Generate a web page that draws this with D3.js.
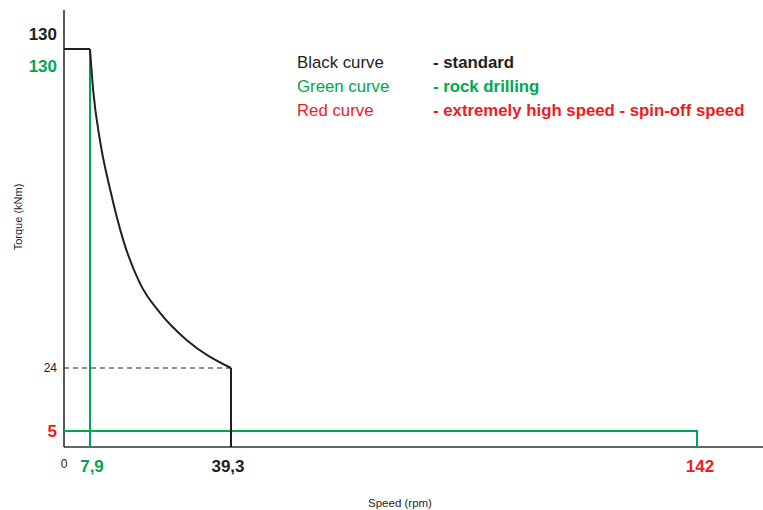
<!DOCTYPE html>
<meta charset="utf-8">
<script src="https://d3js.org/d3.v7.min.js"></script>
<style>
  body { margin: 0; background: #fff; }
  text { font-family: "Liberation Sans", Arial, Helvetica, sans-serif; }
</style>
<div id="my_dataviz"></div>
<script>
    // tick positions on each axis
    var speedTicks = [0, 7.9, 39.3, 142];
    var torqueTicks = [0, 5, 24, 130];

    // black curve - standard (flat, constant power, drop)
    var flatSpeed = [0, 7.9];
    var flatTorque = [130, 130];
    var curveSpeed = [7.9, 8.6, 10.1, 12.4, 15.3, 19.0, 23.5, 29.4, 39.3];
    var curveTorque = [130, 116.4, 99.8, 83.2, 66.5, 52.2, 42.3, 33.3, 24];
    var dropSpeed = [39.3, 39.3];
    var dropTorque = [24, 0];

    // green curve - rock drilling
    var greenSpeed = [7.9, 7.9];
    var greenTorque = [130, 0];
    // low torque line up to spin-off speed
    var lowSpeed = [0, 142, 142];
    var lowTorque = [5, 5, 0];

    // tick labels
    var yLabelValues = [130, 130, 24, 5];
    var yLabelText = ["130", "130", "24", "5"];
    var yLabelColors = ["#231f20", "#00a651", "#231f20", "#ed1c24"];
    var xLabelValues = [0, 7.9, 39.3, 142];
    var xLabelText = ["0", "7,9", "39,3", "142"];
    var xLabelColors = ["#231f20", "#00a651", "#231f20", "#ed1c24"];

    var legendNames = ["Black curve", "Green curve", "Red curve"];
    var legendText = ["- standard", "- rock drilling", "- extremely high speed - spin-off speed"];
    var legendColors = ["#231f20", "#00a651", "#ed1c24"];

    var width = 763, height = 510;

    var svg = d3.select("#my_dataviz")
        .append("svg")
        .attr("width", width)
        .attr("height", height);

    var x = d3.scaleLinear().domain(speedTicks).range([64, 90, 231, 697]);
    var y = d3.scaleLinear().domain(torqueTicks).range([447, 431, 368, 49]);

    function pts(xs, ys) {
        return xs.map(function(d, i) { return [d, ys[i]]; });
    }
    var line = d3.line()
        .x(function(d) { return x(d[0]); })
        .y(function(d) { return y(d[1]); });

    // axes
    svg.append("line")
        .attr("x1", x(0)).attr("x2", width)
        .attr("y1", y(0)).attr("y2", y(0))
        .attr("stroke", "#666").attr("stroke-width", 2);
    svg.append("line")
        .attr("x1", x(0)).attr("x2", x(0))
        .attr("y1", 10).attr("y2", y(0))
        .attr("stroke", "#231f20").attr("stroke-width", 1.5);

    // dashed reference at 24
    svg.append("path")
        .attr("d", line(pts([0, 39.3], [24, 24])))
        .attr("fill", "none")
        .attr("stroke", "#231f20")
        .attr("stroke-width", 1)
        .attr("stroke-dasharray", "5,4");

    // green lines
    svg.append("path")
        .attr("d", line(pts(greenSpeed, greenTorque)))
        .attr("fill", "none").attr("stroke", "#00a651").attr("stroke-width", 2);
    svg.append("path")
        .attr("d", line(pts(lowSpeed, lowTorque)))
        .attr("fill", "none").attr("stroke", "#00a651").attr("stroke-width", 2);

    // black curve
    svg.append("path")
        .attr("d", line(pts(flatSpeed, flatTorque)))
        .attr("fill", "none").attr("stroke", "#231f20").attr("stroke-width", 2);
    svg.append("path")
        .attr("d", line.curve(d3.curveMonotoneX)(pts(curveSpeed, curveTorque)))
        .attr("fill", "none").attr("stroke", "#231f20").attr("stroke-width", 2);
    line.curve(d3.curveLinear);
    svg.append("path")
        .attr("d", line(pts(dropSpeed, dropTorque)))
        .attr("fill", "none").attr("stroke", "#231f20").attr("stroke-width", 2);

    // y tick labels (the two 130 labels sit above and below the line)
    var yShift = [-9, 23, 4, 6];
    svg.selectAll(".ylab")
        .data(yLabelValues)
        .enter()
        .append("text")
        .attr("x", 57)
        .attr("y", function(d, i) { return y(d) + yShift[i]; })
        .attr("text-anchor", "end")
        .attr("fill", function(d, i) { return yLabelColors[i]; })
        .style("font-size", function(d, i) { return d === 24 ? "12px" : "17px"; })
        .style("font-weight", function(d, i) { return d === 24 ? "normal" : "bold"; })
        .text(function(d, i) { return yLabelText[i]; });

    // x tick labels
    var xShift = [0, 2, -3, 3];
    svg.selectAll(".xlab")
        .data(xLabelValues)
        .enter()
        .append("text")
        .attr("x", function(d, i) { return x(d) + xShift[i]; })
        .attr("y", function(d) { return d === 0 ? 468 : 472; })
        .attr("text-anchor", "middle")
        .attr("fill", function(d, i) { return xLabelColors[i]; })
        .style("font-size", function(d) { return d === 0 ? "12px" : "17px"; })
        .style("font-weight", function(d) { return d === 0 ? "normal" : "bold"; })
        .text(function(d, i) { return xLabelText[i]; });

    // axis titles
    svg.append("text")
        .attr("transform", "translate(22,217)rotate(-90)")
        .attr("text-anchor", "middle")
        .attr("fill", "#231f20")
        .style("font-size", "11px")
        .text("Torque (kNm)");
    svg.append("text")
        .attr("x", 400)
        .attr("y", 507)
        .attr("text-anchor", "middle")
        .attr("fill", "#231f20")
        .style("font-size", "11.5px")
        .text("Speed (rpm)");

    // legend
    var legend = svg.selectAll(".leg")
        .data(legendNames)
        .enter()
        .append("g")
        .attr("transform", function(d, i) { return "translate(297," + (68 + i * 24) + ")"; });
    legend.append("text")
        .attr("fill", function(d, i) { return legendColors[i]; })
        .style("font-size", "16.8px")
        .text(function(d) { return d; });
    legend.append("text")
        .attr("x", 136)
        .attr("fill", function(d, i) { return legendColors[i]; })
        .style("font-size", "16.8px")
        .style("font-weight", "bold")
        .text(function(d, i) { return legendText[i]; });
</script>
